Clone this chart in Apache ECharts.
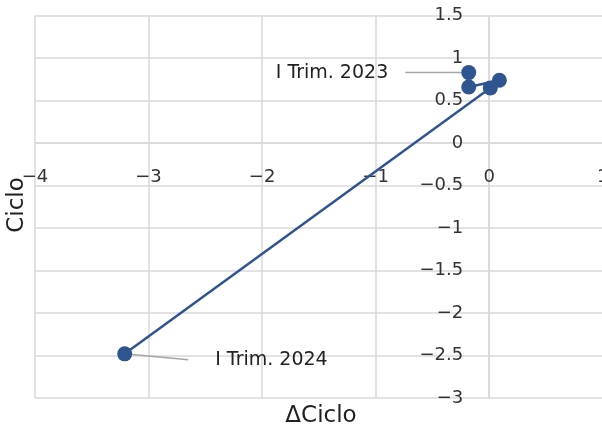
<!DOCTYPE html>
<html>
<head>
<meta charset="utf-8">
<script src="https://cdn.jsdelivr.net/npm/echarts@6/dist/echarts.min.js"></script>
<style>
  html, body { margin: 0; padding: 0; background: #fff; }
  #chart { width: 602px; height: 431px; }
</style>
</head>
<body>
<div id="chart"></div>
<script>
// Quarterly path: change in cycle (x) against cycle level (y)
const quarters = ['I Trim. 2023', 'II Trim. 2023', 'III Trim. 2023', 'IV Trim. 2023', 'I Trim. 2024'];
const deltaCiclo = [-0.18, -0.18, 0.09, 0.01, -3.21];
const ciclo = [0.83, 0.66, 0.74, 0.65, -2.48];
const labelledQuarters = ['I Trim. 2023', 'I Trim. 2024'];

const xTicks = { min: -4, max: 1, step: 1 };
const yTicks = { min: -3, max: 1.5, step: 0.5 };

const FONT = '"DejaVu Sans", sans-serif';
const BLUE = '#2f5590';
const GRID_GREY = '#d9d9d9';
const minus = v => String(v).replace('-', '\u2212');

const GRID = { left: 35, top: 15.7, width: 567.7, height: 382.3 };
// each axis crosses the other at its zero value
const xAxisShift = -(0 - yTicks.min) / (yTicks.max - yTicks.min) * GRID.height;
const yAxisShift = -(0 - xTicks.min) / (xTicks.max - xTicks.min) * GRID.width;

const points = quarters.map((q, i) => {
  const item = { name: q, value: [deltaCiclo[i], ciclo[i]] };
  if (labelledQuarters.includes(q)) {
    const first = i === 0;
    item.label = {
      show: true,
      // a blank spacer keeps the leader line clear of the text
      formatter: first ? '{b}{gap|}' : '{gap|}{b}',
      position: first ? 'left' : 'right',
      distance: 56,
      color: '#222',
      fontFamily: FONT,
      fontSize: 19,
      rich: { gap: { width: first ? 17 : 27 } }
    };
    item.labelLine = {
      show: true,
      smooth: first ? false : 0.3,
      lineStyle: { color: '#a6a6a6', width: 1.5 }
    };
  }
  return item;
});

const chart = echarts.init(document.getElementById('chart'), null, { renderer: 'canvas' });
chart.setOption({
  animation: false,
  backgroundColor: '#fff',
  grid: Object.assign({ containLabel: false, outerBoundsMode: 'none' }, GRID),
  xAxis: {
    type: 'value',
    position: 'bottom',
    offset: xAxisShift,
    min: xTicks.min, max: xTicks.max, interval: xTicks.step,
    axisLine: { show: true, onZero: false, lineStyle: { color: GRID_GREY, width: 1.5 } },
    axisTick: { show: false },
    axisLabel: { margin: 25, color: '#333', fontFamily: FONT, fontSize: 18, formatter: minus },
    splitLine: { show: true, lineStyle: { color: GRID_GREY, width: 1.5 } }
  },
  yAxis: {
    type: 'value',
    position: 'left',
    offset: yAxisShift,
    min: yTicks.min, max: yTicks.max, interval: yTicks.step,
    axisLine: { show: true, onZero: false, lineStyle: { color: GRID_GREY, width: 1.5 } },
    axisTick: { show: false },
    axisLabel: { margin: 26, color: '#333', fontFamily: FONT, fontSize: 18, formatter: minus },
    splitLine: { show: true, lineStyle: { color: GRID_GREY, width: 1.5 } }
  },
  graphic: [
    { type: 'text', x: 321, y: 416,
      style: { text: '\u0394Ciclo', fill: '#222', font: '23px ' + FONT, textAlign: 'center', textVerticalAlign: 'middle' } },
    { type: 'text', x: 17, y: 205, rotation: Math.PI / 2,
      style: { text: 'Ciclo', fill: '#222', font: '23px ' + FONT, textAlign: 'center', textVerticalAlign: 'middle' } }
  ],
  series: [{
    type: 'line',
    data: points,
    symbol: 'circle',
    symbolSize: 15,
    showSymbol: true,
    itemStyle: { color: BLUE },
    lineStyle: { color: BLUE, width: 2.5 },
    label: { show: false },
    labelLayout: params => (params.dataIndex === quarters.length - 1 ? { dy: 6 } : {})
  }]
});
</script>
</body>
</html>
